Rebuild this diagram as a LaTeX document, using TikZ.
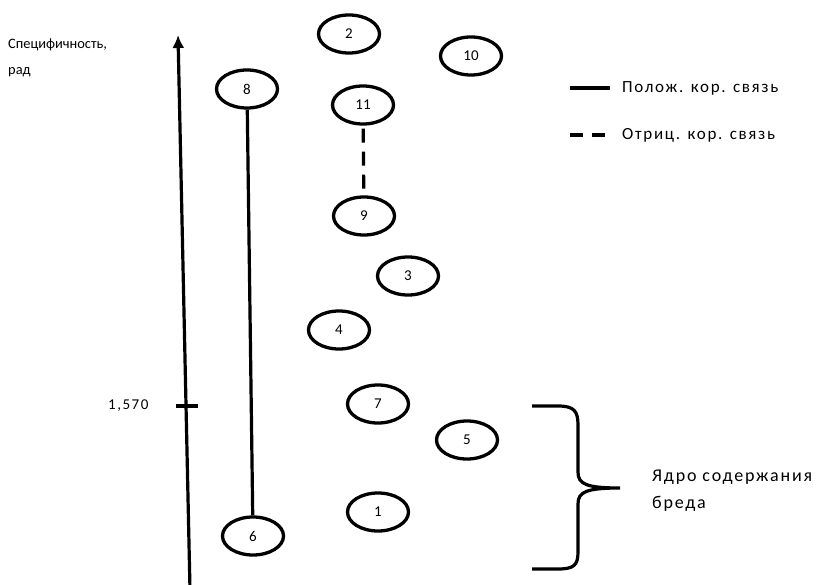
\documentclass[tikz,border=0pt]{standalone}
\usepackage{fontspec}
\setmainfont{Carlito}
\usetikzlibrary{arrows.meta,shapes.geometric}
\begin{document}
\begin{tikzpicture}[x=1pt,y=-1pt,
  item/.style={draw=black, line width=3.3pt, ellipse, minimum width=61pt, minimum height=38pt, inner sep=0pt, font=\fontsize{15}{17}\selectfont},
  link/.style={line width=3.2pt},
  lbl/.style={font=\fontsize{14.4}{17}\selectfont, anchor=west, inner sep=0pt, align=left},
  legtext/.style={font=\fontsize{17}{20}\selectfont\addfontfeature{LetterSpace=10}, anchor=west, inner sep=0pt}]
\useasboundingbox (0,0) rectangle (816,585);
% specificity axis
\coordinate (axbot) at (190,590);
\coordinate (axtop) at (178,35);
\draw[line width=3.2pt, -{Latex[length=13pt,width=12pt]}] (axbot) -- (axtop);
\coordinate (tickc) at (184,406);
\draw[line width=3.2pt] ([xshift=-8pt]tickc) -- ([xshift=14pt]tickc);
\node[lbl, font=\fontsize{15}{18}\selectfont\addfontfeature{LetterSpace=10}] (tickl) at (108,406) {1,570};
\node[lbl] (axl1) at (8,45) {Специфичность,};
\node[lbl] (axl2) at (8,72) {рад};
% features
\node[item] (n2) at (349,34) {2};
\node[item] (n10) at (471,56) {10};
\node[item] (n8) at (247,89) {8};
\node[item] (n11) at (363,105) {11};
\node[item] (n9) at (364,216) {9};
\node[item] (n3) at (408,276) {3};
\node[item] (n4) at (339,330) {4};
\node[item] (n7) at (378,404) {7};
\node[item] (n5) at (467,440) {5};
\node[item] (n1) at (378,512) {1};
\node[item] (n6) at (253,536) {6};
% correlations
\draw[link] (n8) -- (n6);
\draw[link, dash pattern=on 14pt off 9pt, dash phase=-3pt] (n11) -- (n9);
% legend
\coordinate (la) at (570,88);
\coordinate (lb) at (610,88);
\draw[link] (la) -- (lb);
\node[legtext] (lt1) at (622,88) {Полож. кор. связь};
\coordinate (lc) at (570,135);
\coordinate (ld) at (610,135);
\draw[link, dash pattern=on 13pt off 9pt] (lc) -- (ld);
\node[legtext] (lt2) at (622,135) {Отриц. кор. связь};
% brace around the core group
\draw[line width=3.2pt] (532,406) -- (558,406) .. controls (574,406) and (578,411) .. (578,425)
  -- (578,472) .. controls (578,484) and (586,488) .. (620,488)
  .. controls (586,488) and (578,492) .. (578,504)
  -- (578,552) .. controls (578,565) and (574,569) .. (558,569) -- (532,569);
\node[lbl, font=\fontsize{18}{27}\selectfont\addfontfeature{LetterSpace=10}, anchor=west] (core) at (652,491) {Ядро содержания\\бреда};
\end{tikzpicture}
\end{document}
